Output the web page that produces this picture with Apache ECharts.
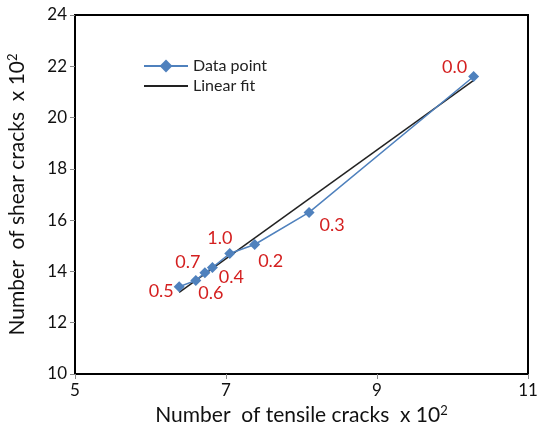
<!DOCTYPE html>
<html>
<head>
<meta charset="utf-8">
<script src="https://cdn.jsdelivr.net/npm/echarts@6/dist/echarts.min.js"></script>
<style>
  html, body { margin: 0; padding: 0; background: #fff; }
  #chart { width: 539px; height: 433px; }
</style>
</head>
<body>
<div id="chart"></div>
<script>
// Tensile vs shear crack counts (x 10^2) for each parameter value
const paramLabels = ['0.5', '0.6', '0.7', '0.4', '1.0', '0.2', '0.3', '0.0'];
const tensileCracks = [6.38, 6.60, 6.72, 6.82, 7.05, 7.38, 8.10, 10.28];
const shearCracks   = [13.40, 13.65, 13.95, 14.15, 14.70, 15.05, 16.30, 21.60];

// Linear fit end points
const fitX = [6.38, 10.28];
const fitY = [13.18, 21.45];

const xTicks = [5, 7, 9, 11];
const yTicks = [10, 12, 14, 16, 18, 20, 22, 24];

// Where each value label sits relative to its marker (px)
const labelShift = {
  '0.0': [-19, -9], '0.3': [23, 13], '0.2': [16, 17], '1.0': [-10, -15],
  '0.4': [19, 10], '0.7': [-17, -11], '0.6': [15, 13], '0.5': [-18, 4]
};

const font = 'Lato, "Open Sans", sans-serif';
const blue = '#4f81bd';

const pointData = tensileCracks.map((x, i) => ({
  value: [x, shearCracks[i]],
  label: {
    show: true,
    formatter: paramLabels[i],
    position: 'inside',
    offset: labelShift[paramLabels[i]],
    color: '#d42020',
    fontSize: 18,
    fontFamily: font
  }
}));

const nameStyle = {
  color: '#111', fontSize: 21, fontFamily: font,
  rich: { s: { fontSize: 13, verticalAlign: 'top', padding: [0, 0, 10, 0], fontFamily: font, color: '#111' } }
};

const chart = echarts.init(document.getElementById('chart'));
chart.setOption({
  animation: false,
  backgroundColor: '#fff',
  grid: {
    left: 75, right: 11, top: 15, bottom: 59,
    outerBoundsMode: 'none', containLabel: false,
    show: true, borderColor: '#000', borderWidth: 2
  },
  legend: {
    left: 138, top: 53, orient: 'vertical', itemGap: 4, itemWidth: 44, itemHeight: 16,
    textStyle: { fontFamily: font, fontSize: 16, color: '#222' },
    data: [
      { name: 'Data point' },
      { name: 'Linear fit', itemStyle: { opacity: 0 } }
    ]
  },
  xAxis: {
    type: 'value', min: xTicks[0], max: xTicks[xTicks.length - 1], interval: 2,
    axisLine: { lineStyle: { color: '#000', width: 2 } },
    axisTick: { show: true, length: 5, lineStyle: { color: '#888' } },
    splitLine: { show: false },
    axisLabel: { color: '#111', fontSize: 17, fontFamily: font, margin: 8 },
    name: 'Number  of tensile cracks  x 10{s|2}',
    nameLocation: 'middle', nameGap: 30,
    nameTextStyle: nameStyle
  },
  yAxis: {
    type: 'value', min: yTicks[0], max: yTicks[yTicks.length - 1], interval: 2,
    axisLine: { lineStyle: { color: '#000', width: 2 } },
    axisTick: { show: true, length: 5, lineStyle: { color: '#888' } },
    splitLine: { show: false },
    axisLabel: { color: '#111', fontSize: 17, fontFamily: font, margin: 8 },
    name: 'Number  of shear cracks  x 10{s|2}',
    nameLocation: 'middle', nameGap: 46,
    nameTextStyle: nameStyle
  },
  series: [
    {
      name: 'Data point', type: 'line', data: pointData,
      symbol: 'diamond', symbolSize: 11,
      lineStyle: { color: blue, width: 1.5 },
      itemStyle: { color: blue },
      z: 3
    },
    {
      name: 'Linear fit', type: 'line', data: fitX.map((x, i) => [x, fitY[i]]),
      symbol: 'none',
      lineStyle: { color: '#222', width: 1.5 },
      itemStyle: { color: '#222' },
      z: 2
    }
  ]
});
</script>
</body>
</html>
